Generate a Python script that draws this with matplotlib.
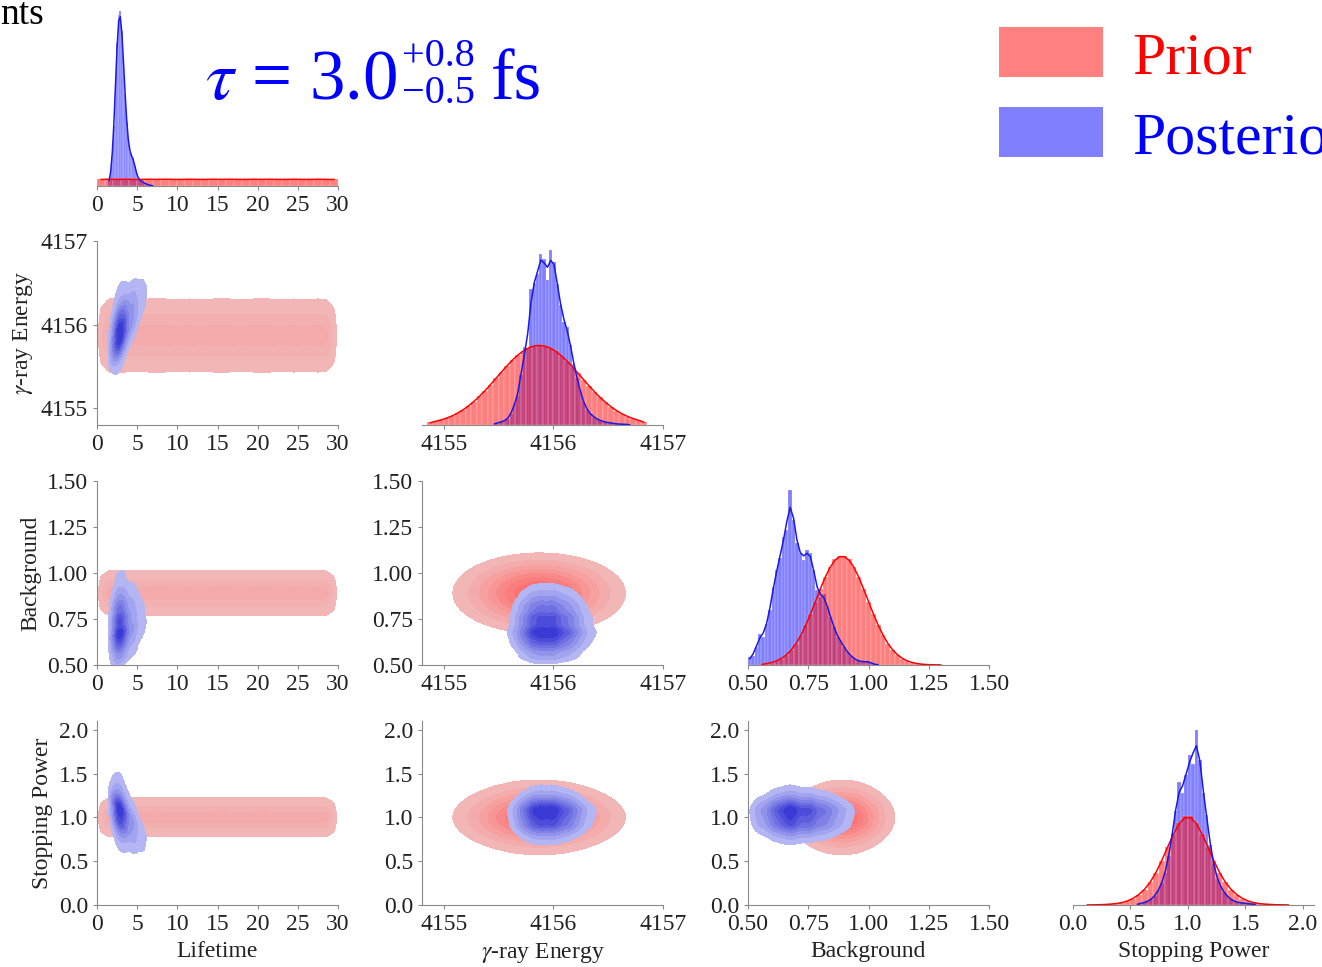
import numpy as np
import matplotlib
matplotlib.use("Agg")
import matplotlib.pyplot as plt
from matplotlib.colors import LinearSegmentedColormap
from matplotlib.patches import Rectangle
from matplotlib.ticker import FormatStrFormatter

plt.rcParams["font.family"] = ["Liberation Serif", "DejaVu Serif"]
plt.rcParams["mathtext.fontset"] = "stix"

# parameter names, ranges and ticks
PARAM_LABELS = ["Lifetime", r"$\gamma$-ray Energy", "Background", "Stopping Power"]
PARAM_LIMITS = [(0.0, 30.0), (4154.8, 4157.0), (0.5, 1.5), (0.0, 2.1)]
PARAM_TICKS = [
    [0, 5, 10, 15, 20, 25, 30],
    [4155, 4156, 4157],
    [0.50, 0.75, 1.00, 1.25, 1.50],
    [0.0, 0.5, 1.0, 1.5, 2.0],
]
TICK_FORMATS = ["%d", "%d", "%.2f", "%.1f"]

# marginal histograms (density), given as first bin edge, bin width, heights
LIFETIME_PRIOR_START, LIFETIME_PRIOR_WIDTH = 0.0, 1.0
LIFETIME_PRIOR = [0.033, 0.034, 0.033, 0.034, 0.033, 0.033, 0.034, 0.033, 0.034, 0.033,
                  0.033, 0.034, 0.033, 0.033, 0.034, 0.033, 0.034, 0.033, 0.033, 0.034,
                  0.033, 0.034, 0.033, 0.033, 0.034, 0.033, 0.033, 0.034, 0.033, 0.033]
LIFETIME_POST_START, LIFETIME_POST_WIDTH = 1.4, 0.2
LIFETIME_POST = [0.02, 0.06, 0.15, 0.30, 0.50, 0.72, 0.86, 0.88, 0.78, 0.62,
                 0.46, 0.32, 0.22, 0.17, 0.15, 0.14, 0.10, 0.07, 0.04, 0.03,
                 0.025, 0.02, 0.015, 0.01, 0.008, 0.005, 0.003, 0.002]

ENERGY_PRIOR_START, ENERGY_PRIOR_WIDTH = 4154.85, 0.05
ENERGY_PRIOR = [0.034, 0.048, 0.066, 0.089, 0.118, 0.154, 0.198, 0.249, 0.308, 0.376,
                0.449, 0.529, 0.612, 0.695, 0.777, 0.853, 0.921, 0.976, 1.017, 1.043,
                1.050, 1.039, 1.010, 0.966, 0.908, 0.838, 0.761, 0.679, 0.595, 0.513,
                0.434, 0.361, 0.296, 0.238, 0.188, 0.146, 0.111, 0.084, 0.061, 0.044]
ENERGY_POST_START, ENERGY_POST_WIDTH = 4155.45, 0.03
ENERGY_POST = [0.02, 0.03, 0.04, 0.06, 0.08, 0.15, 0.28, 0.38, 0.66, 1.02,
               1.00, 1.78, 1.86, 1.98, 2.25, 2.18, 1.90, 2.30, 2.14, 1.85,
               1.58, 1.35, 1.28, 1.05, 0.80, 0.62, 0.44, 0.30, 0.20, 0.15,
               0.11, 0.08, 0.06, 0.045, 0.035, 0.03, 0.02, 0.015, 0.012, 0.01,
               0.008, 0.005]

BG_PRIOR_START, BG_PRIOR_WIDTH = 0.55, 0.02
BG_PRIOR = [0.027, 0.049, 0.084, 0.139, 0.223, 0.345, 0.514, 0.739, 1.024, 1.370,
            1.765, 2.195, 2.630, 3.040, 3.390, 3.650, 3.780, 3.780, 3.650, 3.390,
            3.040, 2.630, 2.195, 1.765, 1.370, 1.024, 0.739, 0.514, 0.345, 0.223,
            0.139, 0.084, 0.049, 0.027, 0.015, 0.008, 0.004, 0.002]
BG_POST_START, BG_POST_WIDTH = 0.50, 0.014
BG_POST = [0.27, 0.32, 0.61, 1.08, 0.96, 1.43, 1.89, 2.70, 3.28, 3.69,
           4.44, 4.67, 6.06, 5.02, 4.21, 3.86, 3.63, 3.98, 3.86, 3.28,
           2.58, 2.35, 2.47, 2.00, 1.66, 1.31, 0.96, 0.85, 0.61, 0.44,
           0.32, 0.21, 0.15, 0.13, 0.09, 0.15, 0.06, 0.02, 0.01]

SP_PRIOR_START, SP_PRIOR_WIDTH = 0.10, 0.05
SP_PRIOR = [0.002, 0.003, 0.005, 0.010, 0.020, 0.030, 0.050, 0.090, 0.150, 0.240,
            0.360, 0.530, 0.760, 1.040, 1.360, 1.670, 1.930, 2.080, 2.080, 1.930,
            1.670, 1.360, 1.040, 0.760, 0.530, 0.360, 0.240, 0.150, 0.090, 0.050,
            0.030, 0.020, 0.010, 0.005, 0.003, 0.002]
SP_POST_START, SP_POST_WIDTH = 0.55, 0.03
SP_POST = [0.02, 0.04, 0.06, 0.09, 0.14, 0.22, 0.34, 0.52, 0.76, 1.15,
           1.65, 2.20, 2.87, 2.62, 3.05, 3.50, 3.30, 4.10, 3.40, 2.62,
           2.10, 1.40, 0.95, 0.62, 0.44, 0.30, 0.20, 0.13, 0.09, 0.06,
           0.05, 0.04, 0.03, 0.02, 0.02]

PRIORS = [
    (LIFETIME_PRIOR_START, LIFETIME_PRIOR_WIDTH, LIFETIME_PRIOR),
    (ENERGY_PRIOR_START, ENERGY_PRIOR_WIDTH, ENERGY_PRIOR),
    (BG_PRIOR_START, BG_PRIOR_WIDTH, BG_PRIOR),
    (SP_PRIOR_START, SP_PRIOR_WIDTH, SP_PRIOR),
]
POSTERIORS = [
    (LIFETIME_POST_START, LIFETIME_POST_WIDTH, LIFETIME_POST),
    (ENERGY_POST_START, ENERGY_POST_WIDTH, ENERGY_POST),
    (BG_POST_START, BG_POST_WIDTH, BG_POST),
    (SP_POST_START, SP_POST_WIDTH, SP_POST),
]

# tilt of the posterior in each pair (row param change per unit of column param)
POST_SLOPES = {(1, 0): 0.15, (2, 0): 0.02, (2, 1): 0.0,
               (3, 0): -0.10, (3, 1): 0.0, (3, 2): 0.0}

RED_CMAP = LinearSegmentedColormap.from_list("prior", ["#f2b6b6", "#ff6868"])
BLUE_CMAP = LinearSegmentedColormap.from_list("post", ["#b4b6f4", "#3a3ad4"])
RED_LEVELS = [0.12, 0.24, 0.36, 0.48, 0.60, 0.72, 0.84, 0.94]
RED_LEVELS_FLAT = [0.52, 0.80, 0.95]
BLUE_LEVELS = [0.04, 0.10, 0.18, 0.28, 0.40, 0.52, 0.65, 0.80]
BLUE_LEVELS_LIFETIME = [0.012, 0.06, 0.14, 0.25, 0.38, 0.52, 0.66, 0.82]

W, H = 1322, 967
COL_LEFT = [97, 422, 748, 1073]
ROW_BOTTOM = [186, 425, 665, 905]
AX_W, AX_H = 241, 184
SPINE = "#8a8a8a"
TEXT = "#222222"


def bin_centers(start, width, heights):
    return start + width * (np.arange(len(heights)) + 0.5)


def smooth(h):
    return np.convolve(np.asarray(h, float), [0.25, 0.5, 0.25], mode="same")


def marginal(start, width, heights):
    c = bin_centers(start, width, heights)
    c = np.concatenate([[c[0] - width], c, [c[-1] + width]])
    h = np.concatenate([[0.0], smooth(heights), [0.0]])
    return c, h


def density_2d(xm, ym, X, Y, slope=0.0):
    xc, xh = xm
    yc, yh = ym
    x0 = np.sum(xc * xh) / np.sum(xh)
    fx = np.interp(X, xc, xh, left=0, right=0)
    fy = np.interp(Y - slope * (X - x0), yc, yh, left=0, right=0)
    return fx * fy


def fill_levels(ax, X, Y, Z, fracs, cmap, span, z):
    zmax = Z.max()
    levels = [f * zmax for f in fracs] + [zmax * 1.001]
    colors = [cmap(v) for v in np.linspace(0, span, len(fracs))]
    ax.contourf(X, Y, Z, levels=levels, colors=colors, zorder=z)


def style_axes(ax, diag):
    for side in ["top", "right"]:
        ax.spines[side].set_visible(False)
    ax.spines["bottom"].set_color(SPINE)
    ax.spines["left"].set_color(SPINE)
    if diag:
        ax.spines["left"].set_visible(False)
        ax.set_yticks([])
    ax.tick_params(colors=SPINE, labelcolor=TEXT, labelsize=17, length=3, width=0.8)


def draw_diag(ax, i):
    ps, pw, ph = PRIORS[i]
    qs, qw, qh = POSTERIORS[i]
    pc = bin_centers(ps, pw, ph)
    qc = bin_centers(qs, qw, qh)
    ax.bar(qs + qw * np.arange(len(qh)), qh, width=qw, align="edge",
           color="blue", alpha=0.5, edgecolor="white", linewidth=0.3, zorder=1)
    ax.bar(ps + pw * np.arange(len(ph)), ph, width=pw, align="edge",
           color="red", alpha=0.5, edgecolor="white", linewidth=0.3, zorder=2)
    ax.plot(pc, smooth(ph) if i else ph, color="red", lw=1.1, zorder=3)
    ax.plot(qc, smooth(qh), color="#1a1ae6", lw=1.1, zorder=4)
    ax.set_ylim(0, max(max(ph), max(qh)) * 1.05)


fig = plt.figure(figsize=(W / 100, H / 100), dpi=100)

axes = {}
for r in range(4):
    for c in range(r + 1):
        rect = [COL_LEFT[c] / W, (H - ROW_BOTTOM[r]) / H, AX_W / W, AX_H / H]
        ax = fig.add_axes(rect)
        axes[(r, c)] = ax
        ax.set_xlim(*PARAM_LIMITS[c])
        ax.set_xticks(PARAM_TICKS[c])
        ax.xaxis.set_major_formatter(FormatStrFormatter(TICK_FORMATS[c]))
        if r == c:
            style_axes(ax, True)
            draw_diag(ax, r)
            continue

        style_axes(ax, False)
        ax.set_ylim(*PARAM_LIMITS[r])
        ax.set_yticks(PARAM_TICKS[r])
        ax.yaxis.set_major_formatter(FormatStrFormatter(TICK_FORMATS[r]))

        xs = np.linspace(*PARAM_LIMITS[c], 300)
        ys = np.linspace(*PARAM_LIMITS[r], 300)
        X, Y = np.meshgrid(xs, ys)

        # prior is independent: product of the two marginals
        Zp = density_2d(marginal(*PRIORS[c]), marginal(*PRIORS[r]), X, Y)
        if c == 0:
            fill_levels(ax, X, Y, Zp, RED_LEVELS_FLAT, RED_CMAP, 0.15, 1)
        else:
            fill_levels(ax, X, Y, Zp, RED_LEVELS, RED_CMAP, 1.0, 1)

        Zq = density_2d(marginal(*POSTERIORS[c]), marginal(*POSTERIORS[r]), X, Y,
                        POST_SLOPES[(r, c)])
        fill_levels(ax, X, Y, Zq, BLUE_LEVELS_LIFETIME if c == 0 else BLUE_LEVELS,
                    BLUE_CMAP, 1.0, 2)

        if c == 0:
            ax.set_ylabel(PARAM_LABELS[r], fontsize=17, color=TEXT)

for c in range(4):
    axes[(3, c)].set_xlabel(PARAM_LABELS[c], fontsize=17, color=TEXT)

# lifetime result, built from pieces so the limits sit tight to the value
renderer = fig.canvas.get_renderer()
t_main = fig.text(205 / W, (H - 99) / H, r"$\tau$ = 3.0", color="blue",
                  fontsize=51, ha="left", va="baseline")
bb = t_main.get_window_extent(renderer)
x_lim = (bb.x1 + 5) / W
t_up = fig.text(x_lim, (H - 66) / H, "+0.8", color="blue", fontsize=29, va="baseline")
fig.text(x_lim, (H - 103) / H, "\u22120.5", color="blue", fontsize=29, va="baseline")
bb_up = t_up.get_window_extent(renderer)
fig.text((bb_up.x1 + 16) / W, (H - 99) / H, "fs", color="blue", fontsize=51,
         ha="left", va="baseline")

# cut-off heading at the top left
fig.text(0, (H - 24) / H, "nts", color="black", fontsize=27, ha="left", va="baseline")

# legend
fig.add_artist(Rectangle((999 / W, (H - 77) / H), 104 / W, 50 / H,
                         transform=fig.transFigure, color="#ff8080", lw=0))
fig.add_artist(Rectangle((999 / W, (H - 157) / H), 104 / W, 50 / H,
                         transform=fig.transFigure, color="#8080ff", lw=0))
fig.text(1132 / W, (H - 73) / H, "Prior", color="red", fontsize=43, va="baseline")
fig.text(1132 / W, (H - 153) / H, "Posterior", color="blue", fontsize=43, va="baseline")

fig.savefig("out.png", dpi=100, facecolor="white")
